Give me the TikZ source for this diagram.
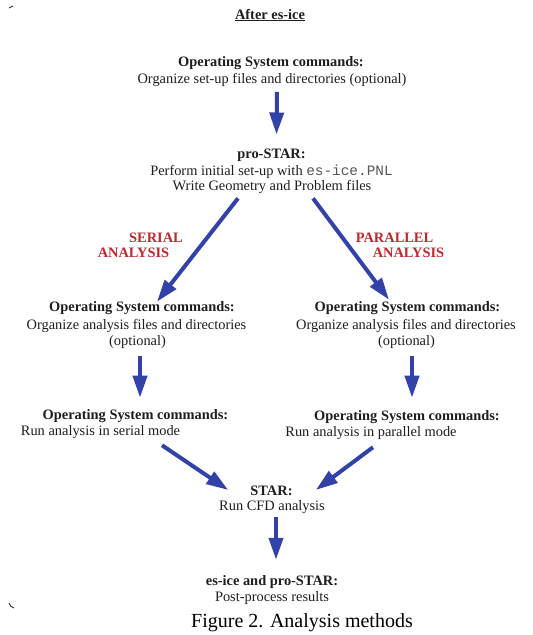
\documentclass[tikz,border=0pt]{standalone}
\usepackage{fontspec}
\setmainfont{Liberation Serif}
\setmonofont{Liberation Mono}
\usetikzlibrary{arrows.meta,calc}
\definecolor{arrblue}{HTML}{3242A8}
\definecolor{lblred}{HTML}{C0282E}
\definecolor{txt}{HTML}{1E1E1E}
\definecolor{codegray}{HTML}{555555}
\begin{document}
\begin{tikzpicture}[x=1pt,y=-1pt,
  every node/.style={inner sep=0pt, text=txt},
  hd/.style={font=\fontsize{14.4}{16.5}\selectfont\bfseries},
  bd/.style={font=\fontsize{14.4}{16.5}\selectfont},
  lbl/.style={font=\fontsize{14.4}{16.5}\selectfont\bfseries, text=lblred},
  arr/.style={draw=arrblue, line width=4pt, -{Triangle[width=14pt,length=22pt]}}]
\useasboundingbox[fill=white] (0,0) rectangle (533,635);

% crop marks
\draw[txt, line width=0.8pt] (9,8) -- (13,6);
\draw[txt, line width=0.8pt] (9,603) to[bend right=30] (14,608);

\node[hd] (title) at (270,15) {\underline{After es-ice}};

\node[hd] (os1h) at (271,63) {Operating System commands:};
\node[bd] (os1b) at (272,80) {Organize set-up files and directories (optional)};

\node[hd] (proh) at (271.5,155) {pro-STAR:};
\node[bd] (prob1) at (271.5,172) {Perform initial set-up with {\color{codegray}\ttfamily es-ice.PNL}};
\node[bd] (prob2) at (272,187) {Write Geometry and Problem files};

\node[lbl] (ser1) at (156,238) {SERIAL};
\node[lbl] (ser2) at (133.5,253) {ANALYSIS};
\node[lbl] (par1) at (394.5,238) {PARALLEL};
\node[lbl] (par2) at (408.5,253) {ANALYSIS};

\node[hd] (losh) at (142,308) {Operating System commands:};
\node[bd] (losb) at (136.5,326) {Organize analysis files and directories};
\node[bd] (loso) at (137.5,342) {(optional)};

\node[hd] (rosh) at (407.5,308) {Operating System commands:};
\node[bd] (rosb) at (406,326) {Organize analysis files and directories};
\node[bd] (roso) at (406.5,342) {(optional)};

\node[hd] (lrunh) at (135.5,416) {Operating System commands:};
\node[bd] (lrunb) at (100.5,432) {Run analysis in serial mode};

\node[hd] (rrunh) at (407,417) {Operating System commands:};
\node[bd] (rrunb) at (371,433) {Run analysis in parallel mode};

\node[hd] (starh) at (271.5,491) {STAR:};
\node[bd] (starb) at (272,507) {Run CFD analysis};

\node[hd] (posth) at (272,582) {es-ice and pro-STAR:};
\node[bd] (postb) at (272,598) {Post-process results};

\node[font=\fontsize{20}{24}\selectfont, text=black] (cap) at (302,623) {Figure 2. Analysis methods};

% arrows
\draw[arr] ($(os1b.south)+(5,5)$) -- ($(proh.north)+(5,-14)$);
\draw[arr] ($(prob2.south)+(-34,4.5)$) -- ($(losh.north)+(15,0.5)$);
\draw[arr] ($(prob2.south)+(41,4.5)$) -- ($(rosh.north)+(-18.5,-1.5)$);
\draw[arr] ($(loso.south)+(2.5,7.5)$) -- ($(lrunh.north)+(4.5,-11.5)$);
\draw[arr] ($(roso.south)+(5.5,7.5)$) -- ($(rrunh.north)+(5,-12.5)$);
\draw[arr] ($(lrunb.south)+(61.5,6.5)$) -- ($(starh.west)+(-22,-1)$);
\draw[arr] ($(rrunb.south)+(2,7.5)$) -- ($(starh.east)+(23,-1)$);
\draw[arr] ($(starb.south)+(4,3.5)$) -- ($(posth.north)+(4,-15.5)$);
\end{tikzpicture}
\end{document}
